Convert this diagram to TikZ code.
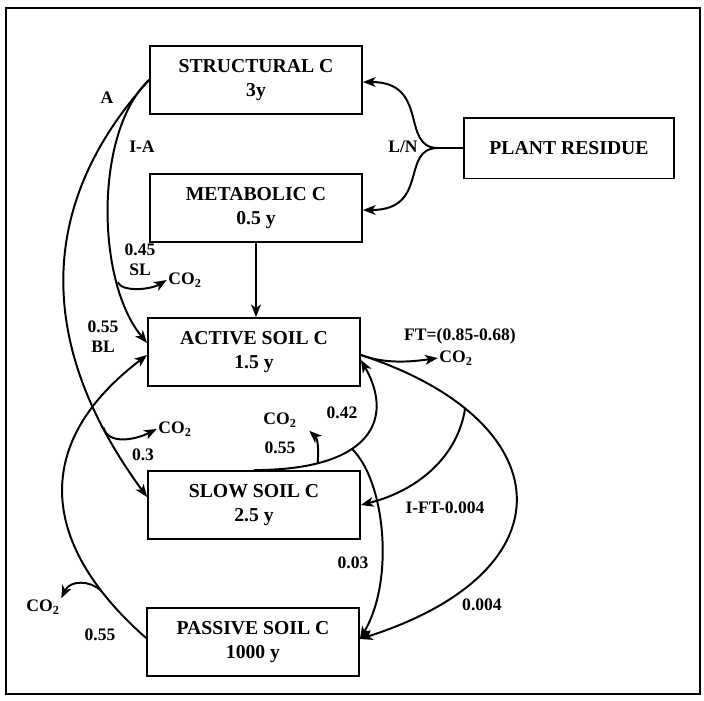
\documentclass[tikz,border=0pt]{standalone}
\usepackage{fontspec}
\setmainfont{Liberation Serif}
\usetikzlibrary{arrows.meta,calc}

\begin{document}
\begin{tikzpicture}[x=0.025cm,y=-0.025cm,
  pool/.style={draw,line width=1.3pt,minimum width=5.3cm,minimum height=1.7cm,
    align=center,font=\fontsize{14}{16.5}\selectfont\bfseries},
  lbl/.style={font=\fontsize{12.5}{14}\selectfont\bfseries,inner sep=1pt,align=center},
  flow/.style={line width=1.4pt,-{Stealth[length=9pt,width=7pt,inset=2.5pt]}}]
% Draw frame
\useasboundingbox (0,0) rectangle (704,700);
\draw[line width=1.3pt] (6,8) rectangle (700,694);

% Draw pools
\node[pool] (struct) at (256,80) {STRUCTURAL C\\3y};
\node[pool] (metab) at (256,208) {METABOLIC C\\0.5 y};
\node[pool,minimum width=5.25cm,minimum height=1.52cm] (plant) at (569,148) {PLANT RESIDUE};
\node[pool] (active) at (254,352) {ACTIVE SOIL C\\1.5 y};
\node[pool] (slow) at (254,505) {SLOW SOIL C\\2.5 y};
\node[pool] (passive) at (253,642) {PASSIVE SOIL C\\1000 y};

% CO2 outlets
\foreach \nm/\x/\y in {co2sl/185/280, co2a/175/429, co2s/280/420, co2ft/456/358, co2p/43/607}
  \node[lbl] (\nm) at (\x,\y) {CO\textsubscript{2}};

% Plant residue split by L/N
\coordinate (fork) at (438,148);
\draw[line width=1.4pt] (plant.west) -- (fork);
\draw[flow] (fork) .. controls (400,148) and (430,82) .. ($(struct.east)+(0,2)$);
\draw[flow] (fork) .. controls (400,148) and (430,210) .. ($(metab.east)+(0,2)$);

% Litter to soil
\draw[flow] (metab.south) -- (metab.south |- active.north);
\draw[flow] (struct.west) .. controls (95,130) and (95,280) .. ($(active.west)+(0,-9)$)
  coordinate[pos=0.75] (sl);
\draw[flow] (sl) .. controls (122,292) and (150,290) .. (co2sl.west);
\draw[flow] (struct.west) .. controls (40,200) and (32,340) .. ($(slow.west)+(0,-8)$)
  coordinate[pos=0.85] (ba);
\draw[flow] (ba) .. controls (108,445) and (135,440) .. (co2a.west);

% Soil pools
\draw[flow] ($(active.east)+(0,3)$) .. controls (385,364) and (410,362) .. (co2ft.west);
\draw[flow] ($(active.east)+(0,3)$) .. controls (560,420) and (575,570) .. ($(passive.east)+(0,-3)$)
  coordinate[pos=0.22] (ift);
\draw[flow] (ift) .. controls (458,455) and (420,490) .. (slow.east);
\draw[flow] (slow.north) .. controls (370,470) and (395,420) .. ($(active.east)+(0,8)$)
  coordinate[pos=0.22] (sa) coordinate[pos=0.4] (sp);
\draw[flow] (sa) .. controls (319,445) and (317,438) .. ($(co2s.south east)+(11,2)$);
\draw[flow] (sp) .. controls (385,480) and (395,580) .. ($(passive.east)+(0,-3)$);
\draw[flow] ($(passive.west)+(0,-4)$) .. controls (35,540) and (35,440) .. ($(active.west)+(0,3)$)
  coordinate[pos=0.16] (pa);
\draw[flow] (pa) .. controls (90,580) and (70,580) .. (co2p.north east);

% Label flows
\node[lbl] (la) at (107,98) {A};
\node[lbl] (lia) at (142,147) {I-A};
\node[lbl] (lsl) at (140,260) {0.45\\SL};
\node[lbl] (lbbl) at (103,337) {0.55\\BL};
\node[lbl] (l03) at (143,455) {0.3};
\node[lbl] (lp55) at (100,635) {0.55};
\node[lbl] (lln) at (403,147) {L/N};
\node[lbl] (lft) at (460,336) {FT=(0.85-0.68)};
\node[lbl] (l42) at (342,413) {0.42};
\node[lbl] (ls55) at (280,448) {0.55};
\node[lbl] (lift) at (445,508) {I-FT-0.004};
\node[lbl] (l03b) at (353,563) {0.03};
\node[lbl] (l004) at (482,605) {0.004};
\end{tikzpicture}
\end{document}
